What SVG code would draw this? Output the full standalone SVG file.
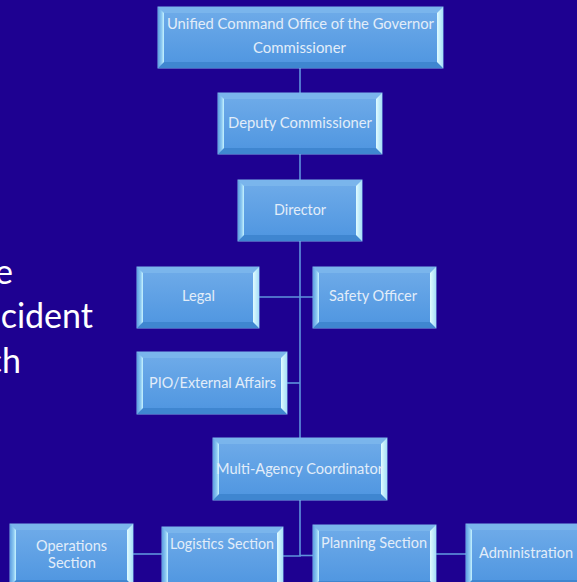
<svg xmlns="http://www.w3.org/2000/svg" width="577" height="582" viewBox="0 0 577 582">
<defs>
<linearGradient id="face" x1="0" y1="0" x2="0" y2="1">
<stop offset="0" stop-color="#70ace9"/>
<stop offset="1" stop-color="#4e95e0"/>
</linearGradient>
<linearGradient id="bl" x1="0" y1="0" x2="1" y2="0">
<stop offset="0" stop-color="#5e9fe2"/>
<stop offset="0.6" stop-color="#8cc9f2"/>
<stop offset="1" stop-color="#c8f4ff"/>
</linearGradient>
<linearGradient id="br" x1="0" y1="0" x2="1" y2="0">
<stop offset="0" stop-color="#e0fbff"/>
<stop offset="1" stop-color="#a6def8"/>
</linearGradient>
<style>
.bg{fill:#1e0191}
.outer{fill:url(#face);stroke:#7db5ea;stroke-width:1}
.bt{fill:#7ab5ec}
.bb{fill:#3f86d0}
.bl{fill:url(#bl)}
.br{fill:url(#br)}
.lbl{font-family:Lato,"Open Sans","Liberation Sans",sans-serif;font-size:16px;fill:#e2edf9;text-anchor:middle}
.sm{font-size:15px}
.big{font-family:Lato,"Open Sans","Liberation Sans",sans-serif;font-size:34px;fill:#ffffff;text-anchor:end}
.conn{stroke:#5f94dc;stroke-width:1.6;fill:none}
</style>
</defs>
<rect class="bg" x="0" y="0" width="577" height="582"/>

<g id="title-text">
<text class="big" x="13" y="284">e</text>
<text class="big" x="93" y="328">cident</text>
<text class="big" x="21" y="373">ch</text>
</g>

<g id="connectors">
<line class="conn" x1="300" y1="68" x2="300" y2="93"/>
<line class="conn" x1="300" y1="154" x2="300" y2="180"/>
<line class="conn" x1="300" y1="241" x2="300" y2="438"/>
<line class="conn" x1="259" y1="297" x2="313" y2="297"/>
<line class="conn" x1="287" y1="383" x2="300" y2="383"/>
<polyline class="conn" points="300,500 300,556 283,556"/>
<line class="conn" x1="300" y1="555.5" x2="313" y2="555.5"/>
<line class="conn" x1="133" y1="554" x2="162" y2="554"/>
<line class="conn" x1="436" y1="554" x2="466" y2="554"/>
</g>

<g id="n-unified">
<rect class="outer" x="158" y="7" width="285" height="61"/>
<polygon class="bt" points="158,7 443,7 437,13 164,13"/>
<polygon class="bb" points="158,68 443,68 437,62 164,62"/>
<polygon class="bl" points="158,7 164,13 164,62 158,68"/>
<polygon class="br" points="443,7 437,13 437,62 443,68"/>
<text class="lbl" x="300.5" y="29" textLength="267" lengthAdjust="spacingAndGlyphs">Unified Command Office of the Governor</text>
<text class="lbl" x="299.5" y="53" textLength="93" lengthAdjust="spacingAndGlyphs">Commissioner</text>
</g>

<g id="n-deputy">
<rect class="outer" x="218" y="93" width="164" height="61"/>
<polygon class="bt" points="218,93 382,93 376,99 224,99"/>
<polygon class="bb" points="218,154 382,154 376,148 224,148"/>
<polygon class="bl" points="218,93 224,99 224,148 218,154"/>
<polygon class="br" points="382,93 376,99 376,148 382,154"/>
<text class="lbl" x="300" y="128" textLength="144" lengthAdjust="spacingAndGlyphs">Deputy Commissioner</text>
</g>

<g id="n-director">
<rect class="outer" x="238" y="180" width="124" height="61"/>
<polygon class="bt" points="238,180 362,180 356,186 244,186"/>
<polygon class="bb" points="238,241 362,241 356,235 244,235"/>
<polygon class="bl" points="238,180 244,186 244,235 238,241"/>
<polygon class="br" points="362,180 356,186 356,235 362,241"/>
<text class="lbl" x="300" y="215" textLength="52" lengthAdjust="spacingAndGlyphs">Director</text>
</g>

<g id="n-legal">
<rect class="outer" x="137" y="267" width="122" height="61"/>
<polygon class="bt" points="137,267 259,267 253,273 143,273"/>
<polygon class="bb" points="137,328 259,328 253,322 143,322"/>
<polygon class="bl" points="137,267 143,273 143,322 137,328"/>
<polygon class="br" points="259,267 253,273 253,322 259,328"/>
<text class="lbl" x="198.5" y="301" textLength="33" lengthAdjust="spacingAndGlyphs">Legal</text>
</g>

<g id="n-safety">
<rect class="outer" x="313" y="267" width="123" height="61"/>
<polygon class="bt" points="313,267 436,267 430,273 319,273"/>
<polygon class="bb" points="313,328 436,328 430,322 319,322"/>
<polygon class="bl" points="313,267 319,273 319,322 313,328"/>
<polygon class="br" points="436,267 430,273 430,322 436,328"/>
<text class="lbl" x="373" y="301" textLength="88" lengthAdjust="spacingAndGlyphs">Safety Officer</text>
</g>

<g id="n-pio">
<rect class="outer" x="137" y="352" width="150" height="62"/>
<polygon class="bt" points="137,352 287,352 281,358 143,358"/>
<polygon class="bb" points="137,414 287,414 281,408 143,408"/>
<polygon class="bl" points="137,352 143,358 143,408 137,414"/>
<polygon class="br" points="287,352 281,358 281,408 287,414"/>
<text class="lbl" x="212.5" y="388" textLength="127" lengthAdjust="spacingAndGlyphs">PIO/External Affairs</text>
</g>

<g id="n-multi">
<rect class="outer" x="213" y="438" width="174" height="62"/>
<polygon class="bt" points="213,438 387,438 381,444 219,444"/>
<polygon class="bb" points="213,500 387,500 381,494 219,494"/>
<polygon class="bl" points="213,438 219,444 219,494 213,500"/>
<polygon class="br" points="387,438 381,444 381,494 387,500"/>
<text class="lbl" x="299.5" y="474" textLength="167" lengthAdjust="spacingAndGlyphs">Multi-Agency Coordinator</text>
</g>

<g id="n-operations">
<rect class="outer" x="10" y="524" width="123" height="62"/>
<polygon class="bt" points="10,524 133,524 127,530 16,530"/>
<polygon class="bb" points="10,586 133,586 127,580 16,580"/>
<polygon class="bl" points="10,524 16,530 16,580 10,586"/>
<polygon class="br" points="133,524 127,530 127,580 133,586"/>
<text class="lbl sm" x="71.5" y="550.5" textLength="71" lengthAdjust="spacingAndGlyphs">Operations</text>
<text class="lbl sm" x="72" y="568" textLength="48" lengthAdjust="spacingAndGlyphs">Section</text>
</g>

<g id="n-logistics">
<rect class="outer" x="162" y="527" width="121" height="62"/>
<polygon class="bt" points="162,527 283,527 277,533 168,533"/>
<polygon class="bb" points="162,589 283,589 277,583 168,583"/>
<polygon class="bl" points="162,527 168,533 168,583 162,589"/>
<polygon class="br" points="283,527 277,533 277,583 283,589"/>
<text class="lbl" x="222" y="549" textLength="104" lengthAdjust="spacingAndGlyphs">Logistics Section</text>
</g>

<g id="n-planning">
<rect class="outer" x="313" y="525" width="123" height="62"/>
<polygon class="bt" points="313,525 436,525 430,531 319,531"/>
<polygon class="bb" points="313,587 436,587 430,581 319,581"/>
<polygon class="bl" points="313,525 319,531 319,581 313,587"/>
<polygon class="br" points="436,525 430,531 430,581 436,587"/>
<text class="lbl" x="374" y="548" textLength="106" lengthAdjust="spacingAndGlyphs">Planning Section</text>
</g>

<g id="n-admin">
<rect class="outer" x="466" y="524" width="123" height="62"/>
<polygon class="bt" points="466,524 589,524 583,530 472,530"/>
<polygon class="bb" points="466,586 589,586 583,580 472,580"/>
<polygon class="bl" points="466,524 472,530 472,580 466,586"/>
<polygon class="br" points="589,524 583,530 583,580 589,586"/>
<text class="lbl" x="526" y="558" textLength="94" lengthAdjust="spacingAndGlyphs">Administration</text>
</g>
</svg>
